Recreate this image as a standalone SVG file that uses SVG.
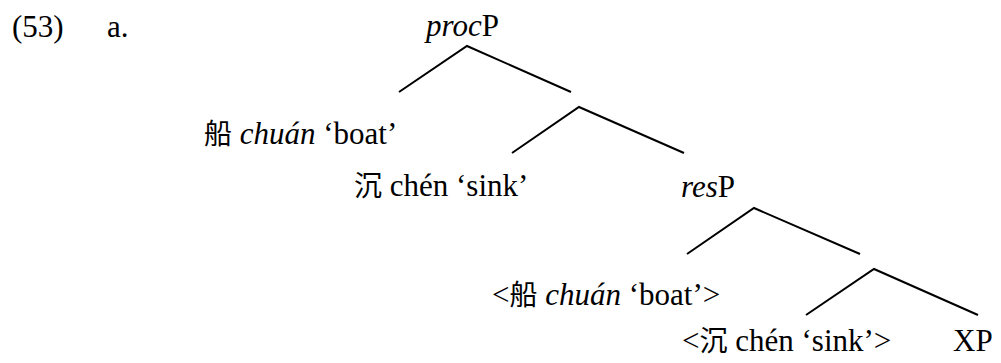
<svg xmlns="http://www.w3.org/2000/svg" width="1001" height="363" viewBox="0 0 1001 363">
<style>
.it{font-style:italic}
.edge{stroke:#000;stroke-width:2;fill:none;stroke-linecap:butt}
</style>
<rect width="1001" height="363" fill="#fff"/>
<g id="label">
<text x="12" y="37" font-family="Liberation Serif, serif" font-size="31">(53)</text>
<text x="107" y="37" font-family="Liberation Serif, serif" font-size="31">a.</text>
</g>
<g id="procP"><text x="426" y="36" font-family="Liberation Serif, serif" font-size="31"><tspan class="it">proc</tspan>P</text></g>
<g id="boat"><text x="204" y="144" font-family="Liberation Serif, serif" font-size="31"><tspan font-family="Noto Sans CJK SC, sans-serif" font-size="28">&#33337;</tspan> <tspan class="it">chuán</tspan> &#8216;boat&#8217;</text></g>
<g id="sink"><text x="354" y="196" font-family="Liberation Serif, serif" font-size="31"><tspan font-family="Noto Sans CJK SC, sans-serif" font-size="28">&#27785;</tspan> chén &#8216;sink&#8217;</text></g>
<g id="resP"><text x="681" y="197" font-family="Liberation Serif, serif" font-size="31"><tspan class="it">res</tspan>P</text></g>
<g id="boat-trace"><text x="492" y="305" font-family="Liberation Serif, serif" font-size="31">&lt;<tspan font-family="Noto Sans CJK SC, sans-serif" font-size="28">&#33337;</tspan> <tspan class="it">chuán</tspan> &#8216;boat&#8217;&gt;</text></g>
<g id="sink-trace"><text x="682" y="351" font-family="Liberation Serif, serif" font-size="31">&lt;<tspan font-family="Noto Sans CJK SC, sans-serif" font-size="28">&#27785;</tspan> chén &#8216;sink&#8217;&gt;</text></g>
<g id="XP"><text x="953" y="351" font-family="Liberation Serif, serif" font-size="31">XP</text></g>
<g id="connectors">
<path class="edge" d="M399,92 L467,46 L571,92"/>
<path class="edge" d="M512,153 L579,107 L684,153"/>
<path class="edge" d="M687,254 L754,208 L860,254"/>
<path class="edge" d="M806,315 L874,269 L978,315"/>
</g>
</svg>
